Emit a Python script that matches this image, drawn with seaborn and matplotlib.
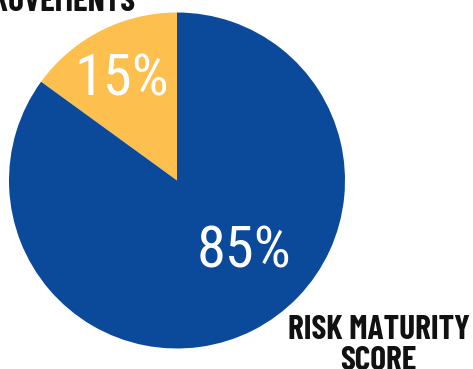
import matplotlib
matplotlib.use("Agg")
import matplotlib.pyplot as plt
import seaborn as sns

sns.set_theme(style="white")
plt.rcParams["font.family"] = ["Roboto Condensed", "DejaVu Sans"]
label_family = ["Barlow Condensed", "Roboto Condensed", "DejaVu Sans"]

categories = ["IMPROVEMENTS", "RISK MATURITY\nSCORE"]
values = [15, 85]
pct_labels = ["15%", "85%"]
colors = ["#FDBF4E", "#0B4A9B"]

W, H = 473, 369
fig = plt.figure(figsize=(W / 100, H / 100), dpi=100)
ax = fig.add_axes([0, 0, 1, 1])

cx, cy, r = 177, H - 180.5, 168
ax.pie(values, colors=colors, startangle=90, counterclock=True,
       radius=r, center=(cx, cy), frame=True,
       wedgeprops=dict(linewidth=0))
ax.set_xlim(0, W)
ax.set_ylim(0, H)
ax.axis("off")

ax.text(122, H - 95, pct_labels[0], color="white", fontsize=42,
        ha="center", va="baseline")
ax.text(243.5, H - 267, pct_labels[1], color="white", fontsize=42,
        ha="center", va="baseline")

ax.text(135, H - 11, categories[0], color="#111111", fontsize=24,
        family=label_family, fontweight="bold", ha="right", va="baseline")
for i, line in enumerate(categories[1].split("\n")):
    ax.text(378.5, H - 339 - 31 * i, line, color="#111111", fontsize=24,
            family=label_family, fontweight="bold", ha="center",
            va="baseline")

fig.savefig("out.png", dpi=100)
